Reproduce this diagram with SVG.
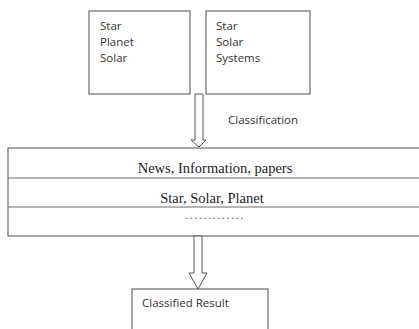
<svg xmlns="http://www.w3.org/2000/svg" width="419" height="329" viewBox="0 0 419 329">
<style>
.box{fill:#fff;stroke:#6b6b6b;stroke-width:1.2}
.arr{fill:#fff;stroke:#555;stroke-width:1}
.s{font-family:"Open Sans","Liberation Sans",sans-serif;font-size:11.5px;fill:#333}
.t{font-family:"Liberation Serif",serif;font-size:14.5px;fill:#222}
.d{font-family:"Liberation Serif",serif;font-size:12px;fill:#555;letter-spacing:1.6px}
</style>
<rect width="419" height="329" fill="#fff"/>
<g id="box1">
<rect class="box" x="89" y="11" width="101" height="83"/>
<text class="s" x="100" y="30">Star</text>
<text class="s" x="100" y="46">Planet</text>
<text class="s" x="100" y="62">Solar</text>
</g>
<g id="box2">
<rect class="box" x="206" y="11" width="104" height="83"/>
<text class="s" x="216" y="30">Star</text>
<text class="s" x="216" y="46">Solar</text>
<text class="s" x="216" y="62">Systems</text>
</g>
<g id="label">
<text class="s" x="228" y="124">Classification</text>
</g>
<g id="table">
<rect class="box" x="8" y="148" width="420" height="88"/>
<line class="box" x1="8" y1="178" x2="419" y2="178"/>
<line class="box" x1="8" y1="207" x2="419" y2="207"/>
<text class="t" x="215" y="173" text-anchor="middle">News, Information, papers</text>
<text class="t" x="212" y="203" text-anchor="middle">Star, Solar, Planet</text>
<text class="d" x="185" y="219">.............</text>
</g>
<g id="result">
<rect class="box" x="132" y="289" width="136" height="50"/>
<text class="s" x="142" y="307">Classified Result</text>
</g>
<g id="connectors">
<path class="arr" d="M195,94 V140 H191 L199,147 L206,140 H203 V94 Z"/>
<path class="arr" d="M194,236 V273 H189 L198,289 L207,273 H202 V236 Z"/>
</g>
</svg>
